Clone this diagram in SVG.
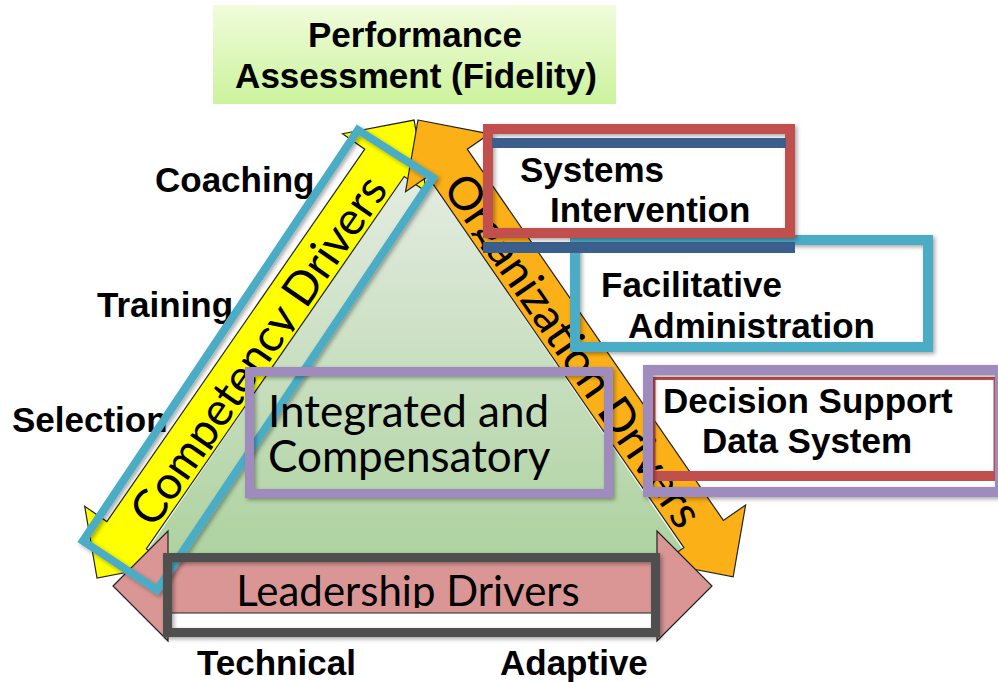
<svg xmlns="http://www.w3.org/2000/svg" width="998" height="682" viewBox="0 0 998 682">
<defs>
<linearGradient id="gPerf" x1="0" y1="0" x2="0" y2="1"><stop offset="0" stop-color="#f1fcdc"/><stop offset="1" stop-color="#cbf39c"/></linearGradient>
<linearGradient id="gTri" x1="0" y1="0" x2="0" y2="1"><stop offset="0" stop-color="#e6ede4"/><stop offset="1" stop-color="#add29f"/></linearGradient>
<filter id="sh" x="-10%" y="-10%" width="120%" height="130%"><feDropShadow dx="2" dy="2" stdDeviation="2" flood-color="#000" flood-opacity="0.35"/></filter>
<clipPath id="cY"><rect x="0" y="-26" width="557" height="47"/></clipPath>
<clipPath id="cO"><rect x="0" y="-26" width="555" height="47"/></clipPath>
<clipPath id="cP"><rect x="110" y="530" width="610" height="78"/></clipPath>
</defs>
<style>
.lbl{font-family:"Liberation Sans",Arial,sans-serif;font-weight:bold;font-size:35px;fill:#000}
.cal{font-family:Lato,"Open Sans",sans-serif;fill:#000}
.arr{stroke:#222;stroke-width:1.2;stroke-linejoin:miter}
.frame{fill:none}
</style>
<rect width="998" height="682" fill="#fff"/>

<g id="perf">
<rect x="213" y="5" width="403" height="99" fill="url(#gPerf)"/>
<text class="lbl" x="415" y="47" text-anchor="middle" font-size="36">Performance</text>
<text class="lbl" x="416" y="88" text-anchor="middle" font-size="36">Assessment (Fidelity)</text>
</g>

<g id="labels-left">
<text class="lbl" x="155" y="192">Coaching</text>
<text class="lbl" x="97" y="317">Training</text>
<text class="lbl" x="12" y="432">Selection</text>
</g>

<g id="triangle">
<polygon points="415,159 690,560 141,560" fill="url(#gTri)"/>
</g>

<g id="connectors">
<g id="competency" transform="translate(97,578) rotate(-55.3)">
<polygon class="arr" fill="#ffff00" points="0,0 52,-51 52,-24 505,-24 505,-51 557,0 505,51 505,24 52,24 52,51"/>
<text class="cal" clip-path="url(#cY)" x="279" y="19" font-size="46" text-anchor="middle">Competency Drivers</text>
</g>
<g id="organization" transform="translate(418,120) rotate(55.4)">
<polygon class="arr" fill="#fbb017" points="0,0 52,-51 52,-24 503,-24 503,-51 555,0 503,51 503,24 52,24 52,51"/>
<text class="cal" clip-path="url(#cO)" x="278" y="19" font-size="46" text-anchor="middle">Organization Drivers</text>
</g>
<g id="leadership">
<polygon class="arr" fill="#d99694" points="113,586 168,531 168,559 657,559 657,531 712,586 657,641 657,613 168,613 168,641"/>
<text class="cal" clip-path="url(#cP)" x="408" y="606" font-size="42" text-anchor="middle">Leadership Drivers</text>
</g>
</g>

<g id="competency-frame">
<polygon class="frame" points="358,130 433,178 157,590 83,541" stroke="#4bacc6" stroke-width="8" filter="url(#sh)"/>
</g>

<g id="integrated">
<rect class="frame" x="249.5" y="371.5" width="359" height="122" stroke="#a08bbf" stroke-width="9" filter="url(#sh)"/>
<text class="cal" font-size="44"><tspan x="268" y="427">Integrated and</tspan><tspan x="268" y="472">Compensatory</tspan></text>
</g>

<g id="leadership-frame">
<rect class="frame" x="167.5" y="557.5" width="488" height="75" stroke="#4f4f4f" stroke-width="9" filter="url(#sh)"/>
</g>

<g id="facilitative">
<rect class="frame" x="575" y="240" width="353" height="107" stroke="#4bacc6" stroke-width="10" filter="url(#sh)"/>
<text class="lbl" x="601" y="297">Facilitative</text>
<text class="lbl" x="628" y="338">Administration</text>
</g>

<g id="systems">
<rect x="483" y="242" width="312" height="11" fill="#3b5f8c"/>
<rect class="frame" x="488" y="129" width="302" height="104" stroke="#c0504d" stroke-width="10" filter="url(#sh)"/>
<rect x="492" y="138" width="294" height="10" fill="#3b5f8c"/>
<text class="lbl" x="520" y="182">Systems</text>
<text class="lbl" x="550" y="222">Intervention</text>
</g>

<g id="decision">
<rect class="frame" x="654" y="378.5" width="341" height="97" stroke="#c0504d" stroke-width="3"/>
<rect x="652.5" y="471" width="344" height="10" fill="#c0504d"/>
<rect class="frame" x="648" y="370" width="352" height="122" stroke="#a08bbf" stroke-width="10" filter="url(#sh)"/>
<text class="lbl" x="663" y="413">Decision Support</text>
<text class="lbl" x="702" y="453">Data System</text>
</g>

<g id="labels-bottom">
<text class="lbl" x="197" y="675">Technical</text>
<text class="lbl" x="500" y="675">Adaptive</text>
</g>
</svg>
